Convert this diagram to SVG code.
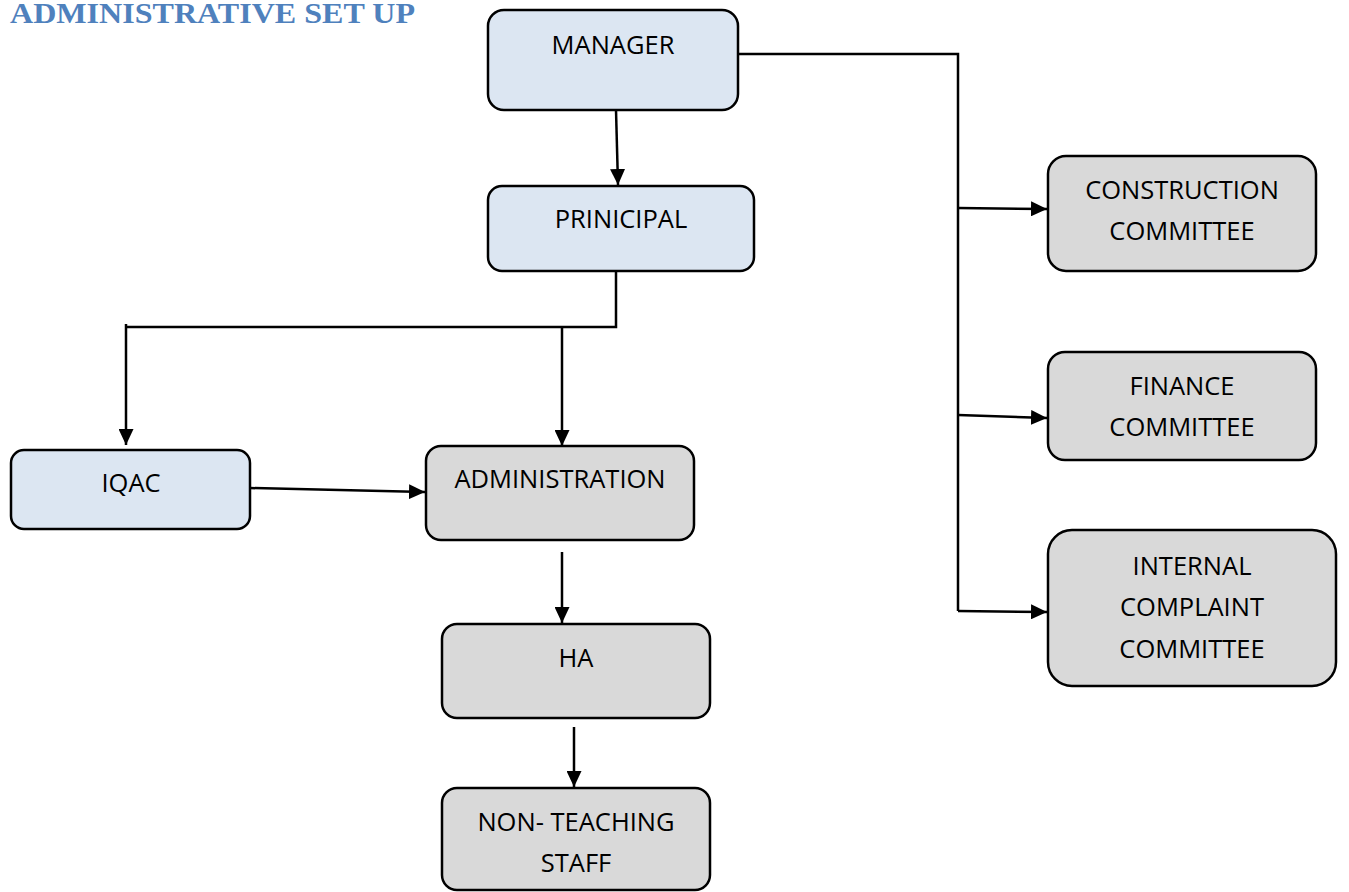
<svg xmlns="http://www.w3.org/2000/svg" width="1349" height="892" viewBox="0 0 1349 892">
<style>
.box{stroke:#000;stroke-width:2.5}
.blue{fill:#DCE6F2}
.gray{fill:#D9D9D9}
.lbl{font-family:"Open Sans","Liberation Sans",sans-serif;font-size:25.5px;fill:#000;text-anchor:middle}
.edge{fill:none;stroke:#000;stroke-width:2.5}
.title{font-family:"Liberation Serif",serif;font-weight:bold;font-size:30px;fill:#4F81BD}
</style>
<defs>
<marker id="arr" viewBox="0 0 10 10" refX="10" refY="5" markerWidth="16" markerHeight="15" markerUnits="userSpaceOnUse" orient="auto" preserveAspectRatio="none">
<path d="M0,0 L10,5 L0,10 Z" fill="#000"/>
</marker>
</defs>
<rect width="1349" height="892" fill="#fff"/>
<text class="title" x="10" y="23" textLength="405" lengthAdjust="spacingAndGlyphs">ADMINISTRATIVE SET UP</text>

<g id="connectors">
<polyline class="edge" points="738,54 958,54 958,611"/>
<line class="edge" x1="958" y1="208" x2="1047" y2="209" marker-end="url(#arr)"/>
<line class="edge" x1="958" y1="415" x2="1047" y2="418" marker-end="url(#arr)"/>
<line class="edge" x1="958" y1="611" x2="1047" y2="612" marker-end="url(#arr)"/>
<line class="edge" x1="616" y1="110" x2="618" y2="185" marker-end="url(#arr)"/>
<polyline class="edge" points="616,271 616,327 126,327"/>
<line class="edge" x1="126" y1="324" x2="126" y2="445" marker-end="url(#arr)"/>
<line class="edge" x1="562" y1="327" x2="562" y2="446" marker-end="url(#arr)"/>
<line class="edge" x1="250" y1="488" x2="425" y2="492" marker-end="url(#arr)"/>
<line class="edge" x1="562" y1="552" x2="562" y2="623" marker-end="url(#arr)"/>
<line class="edge" x1="574" y1="727" x2="574" y2="787" marker-end="url(#arr)"/>
</g>

<g id="manager">
<rect class="box blue" x="488" y="10" width="250" height="100" rx="16"/>
<text class="lbl" x="613" y="54">MANAGER</text>
</g>
<g id="principal">
<rect class="box blue" x="488" y="186" width="266" height="85" rx="14"/>
<text class="lbl" x="621" y="228">PRINICIPAL</text>
</g>
<g id="iqac">
<rect class="box blue" x="11" y="450" width="239" height="79" rx="13"/>
<text class="lbl" x="131" y="492">IQAC</text>
</g>
<g id="administration">
<rect class="box gray" x="426" y="446" width="268" height="94" rx="15"/>
<text class="lbl" x="560" y="488">ADMINISTRATION</text>
</g>
<g id="ha">
<rect class="box gray" x="442" y="624" width="268" height="94" rx="15"/>
<text class="lbl" x="576" y="667">HA</text>
</g>
<g id="non-teaching">
<rect class="box gray" x="442" y="788" width="268" height="102" rx="15"/>
<text class="lbl" x="576" y="831">NON- TEACHING</text>
<text class="lbl" x="576" y="872">STAFF</text>
</g>
<g id="construction">
<rect class="box gray" x="1048" y="156" width="268" height="115" rx="18"/>
<text class="lbl" x="1182" y="199">CONSTRUCTION</text>
<text class="lbl" x="1182" y="240">COMMITTEE</text>
</g>
<g id="finance">
<rect class="box gray" x="1048" y="352" width="268" height="108" rx="17"/>
<text class="lbl" x="1182" y="395">FINANCE</text>
<text class="lbl" x="1182" y="436">COMMITTEE</text>
</g>
<g id="internal-complaint">
<rect class="box gray" x="1048" y="530" width="288" height="156" rx="24"/>
<text class="lbl" x="1192" y="575">INTERNAL</text>
<text class="lbl" x="1192" y="616">COMPLAINT</text>
<text class="lbl" x="1192" y="658">COMMITTEE</text>
</g>
</svg>
